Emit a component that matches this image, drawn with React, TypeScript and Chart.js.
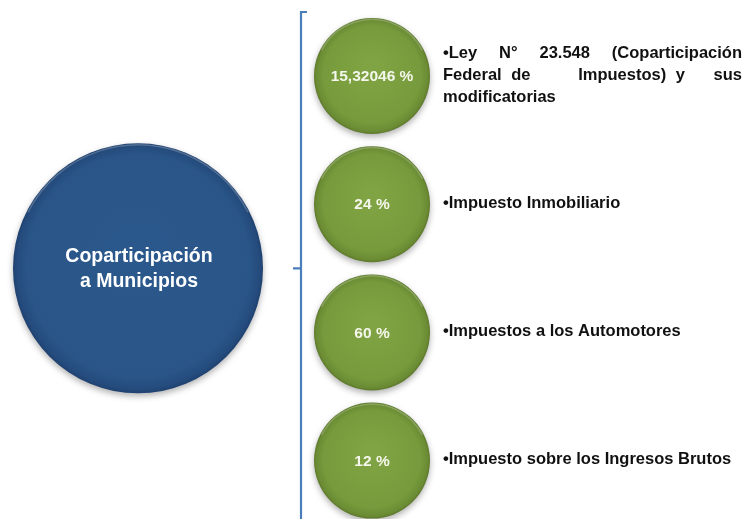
import React, { useEffect, useRef } from "react";
import { Chart, registerables } from "chart.js";

Chart.register(...registerables);

// ---- data ----
const centerLabel = ["Coparticipación", "a Municipios"];
const percentLabels = ["15,32046 %", "24 %", "60 %", "12 %"];
const descriptions = [
  ["•Ley N° 23.548 (Coparticipación", "Federal de     Impuestos) y   sus", "modificatorias"],
  ["•Impuesto Inmobiliario"],
  ["•Impuestos a los Automotores"],
  ["•Impuesto sobre los Ingresos Brutos"],
];
const itemIndex = [0, 1, 2, 3];
const centerIndex = 1.5;
const greenSize = 58;
const blueSize = 125;

const FONT = "'Liberation Sans', Arial, Helvetica, sans-serif";

function justifyLine(ctx: CanvasRenderingContext2D, text: string, x: number, y: number, width: number) {
  const tokens = text.split(" ");
  const spaces = tokens.length - 1;
  let wordsW = 0;
  tokens.forEach((t) => (wordsW += ctx.measureText(t).width));
  const gap = spaces > 0 ? (width - wordsW) / spaces : 0;
  let cx = x;
  tokens.forEach((t) => {
    ctx.fillText(t, cx, y);
    cx += ctx.measureText(t).width + gap;
  });
}

const decorPlugin = {
  id: "decor",
  beforeDatasetsDraw(chart: any) {
    const ctx: CanvasRenderingContext2D = chart.ctx;
    const xs = chart.scales.x;
    const ys = chart.scales.y;
    const bx = xs.getPixelForValue(1) - greenSize - 13;
    const topY = ys.getPixelForValue(0) - greenSize - 6;
    const midY = ys.getPixelForValue(centerIndex);
    ctx.save();
    ctx.strokeStyle = "#4A7EBB";
    ctx.lineWidth = 2.2;
    ctx.beginPath();
    ctx.moveTo(bx + 6, topY);
    ctx.lineTo(bx, topY);
    ctx.lineTo(bx, chart.height + 2);
    ctx.moveTo(bx, midY);
    ctx.lineTo(bx - 8, midY);
    ctx.stroke();
    ctx.restore();
  },
  beforeDatasetDraw(chart: any) {
    const ctx: CanvasRenderingContext2D = chart.ctx;
    ctx.save();
    ctx.shadowColor = "rgba(0,0,0,0.30)";
    ctx.shadowBlur = 6;
    ctx.shadowOffsetY = 3;
  },
  afterDatasetDraw(chart: any, args: any) {
    const ctx: CanvasRenderingContext2D = chart.ctx;
    ctx.restore();
    // soft highlight rim at the top of each disc
    const meta = chart.getDatasetMeta(args.index);
    ctx.save();
    meta.data.forEach((el: any) => {
      const r = el.options.radius;
      ctx.strokeStyle = "rgba(255,255,255,0.22)";
      ctx.lineWidth = 1.5;
      ctx.beginPath();
      ctx.arc(el.x, el.y, r - 1.5, Math.PI * 1.15, Math.PI * 1.85);
      ctx.stroke();
    });
    ctx.restore();
  },
  afterDatasetsDraw(chart: any) {
    const ctx: CanvasRenderingContext2D = chart.ctx;
    const green = chart.getDatasetMeta(0).data;
    const blue = chart.getDatasetMeta(1).data;
    ctx.save();
    ctx.textBaseline = "middle";
    const b = blue[0];
    ctx.fillStyle = "#ffffff";
    ctx.textAlign = "center";
    ctx.font = `bold 19.5px ${FONT}`;
    centerLabel.forEach((t, i) => {
      ctx.fillText(t, b.x + 1, b.y - 12 + i * 25);
    });
    ctx.font = `bold 15.5px ${FONT}`;
    green.forEach((el: any, i: number) => {
      ctx.fillStyle = "#F4F7EC";
      ctx.textAlign = "center";
      ctx.fillText(percentLabels[i], el.x, el.y + 1);
    });
    ctx.font = `bold 16.5px ${FONT}`;
    ctx.fillStyle = "#111111";
    ctx.textAlign = "left";
    const lineH = 22;
    green.forEach((el: any, i: number) => {
      const lines = descriptions[i];
      const x0 = el.x + greenSize + 13;
      const x1 = chart.width - 4;
      const y0 = el.y - ((lines.length - 1) * lineH) / 2 - 1;
      lines.forEach((ln, j) => {
        const y = y0 + j * lineH;
        if (lines.length > 1 && j < lines.length - 1) justifyLine(ctx, ln, x0, y, x1 - x0);
        else ctx.fillText(ln, x0, y);
      });
    });
    ctx.restore();
  },
};

function makeFill(stops: [number, string][], flat: string) {
  return (ctx: any) => {
    const chart = ctx.chart;
    const raw = ctx.raw;
    if (!raw || !chart.scales || !chart.scales.x || !chart.scales.y) return flat;
    const x = chart.scales.x.getPixelForValue(raw.x);
    const y = chart.scales.y.getPixelForValue(raw.y);
    const r = raw.r;
    if (!isFinite(x) || !isFinite(y) || !isFinite(r)) return flat;
    const g = chart.ctx.createRadialGradient(x, y - r * 0.15, r * 0.1, x, y, r);
    stops.forEach(([o, c]) => g.addColorStop(o, c));
    return g;
  };
}

const greenFill = makeFill(
  [
    [0, "#80A343"],
    [0.82, "#779A3C"],
    [0.96, "#6A8B33"],
    [1, "#5C782B"],
  ],
  "#789A3C"
);
const blueFill = makeFill(
  [
    [0, "#2B588C"],
    [0.88, "#2A5588"],
    [0.97, "#244B7C"],
    [1, "#1F4170"],
  ],
  "#2A5588"
);

export default function App() {
  const ref = useRef<HTMLCanvasElement | null>(null);
  useEffect(() => {
    document.body.style.margin = "0";
    document.body.style.background = "#ffffff";
    if (!ref.current) return;
    const W = 746;
    const H = 519;
    const unitY = 128.2;
    const y0px = 76;
    const unitX = 234;
    const x0px = 138;
    const chart = new Chart(ref.current, {
      type: "bubble",
      data: {
        datasets: [
          {
            label: "items",
            data: itemIndex.map((i) => ({ x: 1, y: i, r: greenSize })),
            backgroundColor: greenFill,
            borderWidth: 0,
            hoverRadius: 0,
            clip: false as any,
          },
          {
            label: "center",
            data: [{ x: 0, y: centerIndex, r: blueSize }],
            backgroundColor: blueFill,
            borderWidth: 0,
            hoverRadius: 0,
            clip: false as any,
          },
        ],
      },
      options: {
        responsive: false,
        animation: false,
        events: [],
        layout: { padding: 0, autoPadding: false } as any,
        plugins: { legend: { display: false }, tooltip: { enabled: false } },
        scales: {
          x: {
            type: "linear",
            display: false,
            min: -x0px / unitX,
            max: -x0px / unitX + W / unitX,
          },
          y: {
            type: "linear",
            display: false,
            reverse: true,
            min: -y0px / unitY,
            max: -y0px / unitY + H / unitY,
          },
        },
      },
      plugins: [decorPlugin],
    });
    chart.update();
    return () => chart.destroy();
  }, []);
  return (
    <div style={{ width: 746, height: 519, background: "#fff" }}>
      <canvas ref={ref} width={746} height={519} style={{ display: "block" }} />
    </div>
  );
}
